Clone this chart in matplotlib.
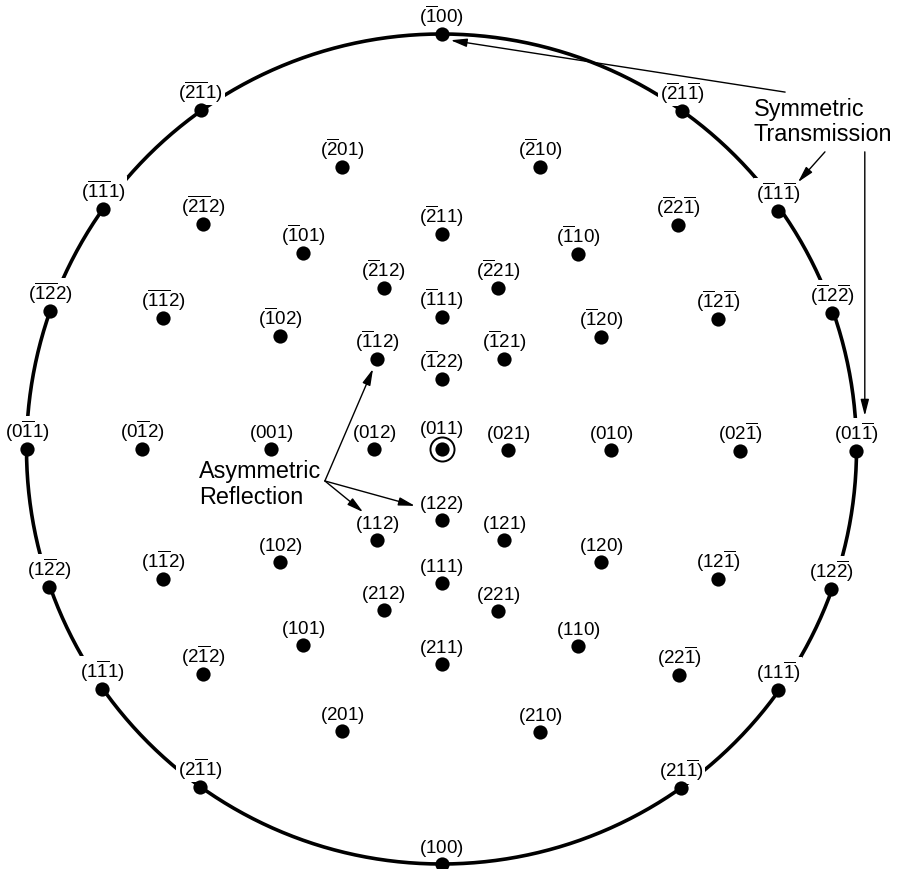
import matplotlib
matplotlib.use("Agg")
import matplotlib.pyplot as plt
import numpy as np

plt.rcParams['font.family'] = ['Liberation Sans', 'DejaVu Sans']
plt.rcParams['mathtext.fontset'] = 'custom'
plt.rcParams['mathtext.rm'] = 'Liberation Sans'
plt.rcParams['mathtext.it'] = 'Liberation Sans:italic'
plt.rcParams['mathtext.bf'] = 'Liberation Sans:bold'

# Poles on the primitive circle (unit-circle coordinates)
edge_labels = ['-100', '-2-11', '-21-1', '-1-11', '-11-1', '-1-22', '-12-2', '0-11',
               '01-1', '1-22', '12-2', '1-11', '11-1', '2-11', '21-1', '100']
edge_x = [0.000, -0.580, 0.580, -0.816, 0.811, -0.943, 0.941, -0.999,
          0.999, -0.946, 0.939, -0.818, 0.811, -0.582, 0.577, 0.000]
edge_y = [1.000, 0.817, 0.815, 0.578, 0.573, 0.333, 0.328, 0.000,
          -0.005, -0.333, -0.337, -0.578, -0.581, -0.814, -0.817, -1.000]

# Interior poles
inner_labels = ['-201', '-210', '-2-12', '-22-1', '-211', '-101', '-110', '-212', '-221',
                '-111', '-1-12', '-12-1', '-102', '-120', '-112', '-121', '-122',
                '0-12', '001', '012', '021', '010', '02-1',
                '122', '112', '121', '102', '120', '1-12', '12-1', '111', '212', '221',
                '101', '110', '211', '2-12', '22-1', '201', '210']
inner_x = [-0.240, 0.237, -0.575, 0.570, 0.000, -0.334, 0.329, -0.139, 0.136,
           0.000, -0.671, 0.666, -0.389, 0.384, -0.155, 0.151, 0.000,
           -0.722, -0.411, -0.163, 0.160, 0.408, 0.719,
           0.000, -0.155, 0.151, -0.389, 0.384, -0.671, 0.666, 0.000, -0.139, 0.136,
           -0.334, 0.329, 0.000, -0.575, 0.572, -0.240, 0.237]
inner_y = [0.680, 0.680, 0.542, 0.540, 0.518, 0.472, 0.470, 0.388, 0.388,
           0.318, 0.316, 0.313, 0.272, 0.270, 0.217, 0.217, 0.169,
           0.000, 0.000, 0.000, -0.002, -0.002, -0.005,
           -0.171, -0.219, -0.219, -0.272, -0.272, -0.313, -0.313, -0.323, -0.388, -0.390,
           -0.472, -0.475, -0.518, -0.542, -0.545, -0.680, -0.682]

# Central pole
center_label = '011'
center_x, center_y = 0.0, 0.0

# Annotations
sym_text = 'Symmetric\nTransmission'
sym_text_pos = (0.753, 0.848)
sym_starts = [(0.828, 0.860), (0.924, 0.716), (1.020, 0.716)]
sym_tips = [(0.022, 0.985), (0.859, 0.643), (1.020, 0.080)]
asym_text = 'Asymmetric\nReflection'
asym_text_pos = (-0.585, -0.025)
asym_vertex = (-0.281, -0.077)
asym_tips = [(-0.165, 0.193), (-0.189, -0.152), (-0.064, -0.137)]


def to_math(s):
    out = ''
    i = 0
    while i < len(s):
        if s[i] == '-':
            out += r'\overline{' + s[i + 1] + '}'
            i += 2
        else:
            out += s[i]
            i += 1
    return r'$\mathrm{(' + out + ')}$'


fig = plt.figure(figsize=(8.98, 8.70), dpi=100)
ax = fig.add_axes([0, 0, 1, 1])
ax.set_xlim(-441.5 / 415, (898 - 441.5) / 415)
ax.set_ylim(-420 / 415, 450 / 415)
ax.axis('off')

t = np.linspace(0, 2 * np.pi, 721)
ax.plot(np.cos(t), np.sin(t), color='black', lw=2.6, zorder=1)

ax.scatter(edge_x, edge_y, s=105, color='black', zorder=4, linewidths=0)
ax.scatter(inner_x, inner_y, s=105, color='black', zorder=4, linewidths=0)
ax.scatter([center_x], [center_y], s=300, facecolor='white', edgecolor='black',
           linewidths=1.4, zorder=4)
ax.scatter([center_x], [center_y], s=105, color='black', zorder=5, linewidths=0)

FS = 13.5
for lab, x, y in zip(edge_labels, edge_x, edge_y):
    ax.annotate(to_math(lab), (x, y), xytext=(0, 6), textcoords='offset pixels',
                ha='center', va='bottom', fontsize=FS, zorder=3,
                bbox=dict(boxstyle='square,pad=0.08', fc='white', ec='none'))
for lab, x, y in zip(inner_labels, inner_x, inner_y):
    ax.annotate(to_math(lab), (x, y), xytext=(0, 6), textcoords='offset pixels',
                ha='center', va='bottom', fontsize=FS, zorder=3)
ax.annotate(to_math(center_label), (center_x, center_y), xytext=(0, 10),
            textcoords='offset pixels', ha='center', va='bottom', fontsize=FS, zorder=3)

ax.text(sym_text_pos[0], sym_text_pos[1], sym_text, ha='left', va='top',
        fontsize=16.8, linespacing=1.12, zorder=6)
ax.text(asym_text_pos[0], asym_text_pos[1], asym_text, ha='left', va='top',
        fontsize=16.8, linespacing=1.12, zorder=6)

arrowprops = dict(arrowstyle='-|>,head_length=0.7,head_width=0.18', color='black',
                  lw=1.0, shrinkA=0, shrinkB=0, mutation_scale=14)
for s0, t0 in zip(sym_starts, sym_tips):
    ax.annotate('', xy=t0, xytext=s0, arrowprops=arrowprops, zorder=6)
for t0 in asym_tips:
    ax.annotate('', xy=t0, xytext=asym_vertex, arrowprops=arrowprops, zorder=6)

fig.savefig('out.png', dpi=100)
